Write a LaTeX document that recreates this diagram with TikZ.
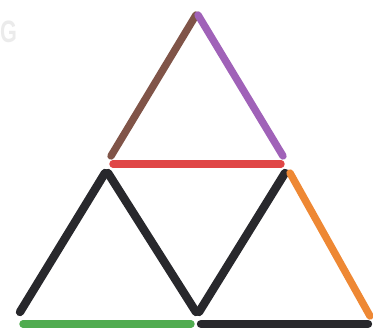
\documentclass[tikz,border=0pt]{standalone}
\usepackage{fontspec}
\setsansfont{Liberation Sans}
\definecolor{stickbrown}{RGB}{128,84,72}
\definecolor{stickpurple}{RGB}{160,98,184}
\definecolor{stickred}{RGB}{224,70,70}
\definecolor{stickorange}{RGB}{238,136,52}
\definecolor{stickgreen}{RGB}{80,172,80}
\definecolor{stickblack}{RGB}{40,40,44}

\begin{document}
\begin{tikzpicture}[x={(0.05cm,0)},y={(0,-0.05cm)},
  stick/.style={line width=4.2mm,line cap=round},
  thin stick/.style={stick,line width=3.7mm}]
  \useasboundingbox (0,0) rectangle (373,331);
  % faint letter at the left edge
  \node[text=black!8,font=\sffamily\bfseries\fontsize{44}{44}\selectfont,anchor=west,inner sep=0pt,xscale=0.7] (mark) at (0,32) {G};
  % top triangle
  \draw[thin stick,stickbrown] (196,15) -- (111,156);
  \draw[thin stick,stickpurple] (198,15) -- (283,156);
  \draw[thin stick,stickred] (113,164) -- (281,164);
  % lower row
  \draw[stick,stickblack] (105,173) -- (20,312);
  \draw[stick,stickblack] (108,173) -- (196,312);
  \draw[stick,stickblack] (285,173) -- (199,312);
  \draw[thin stick,stickorange] (290,173) -- (370,316);
  % bottom
  \draw[thin stick,stickgreen] (23,324) -- (191,324);
  \draw[stick,stickblack] (201,324) -- (368,324);
\end{tikzpicture}
\end{document}
